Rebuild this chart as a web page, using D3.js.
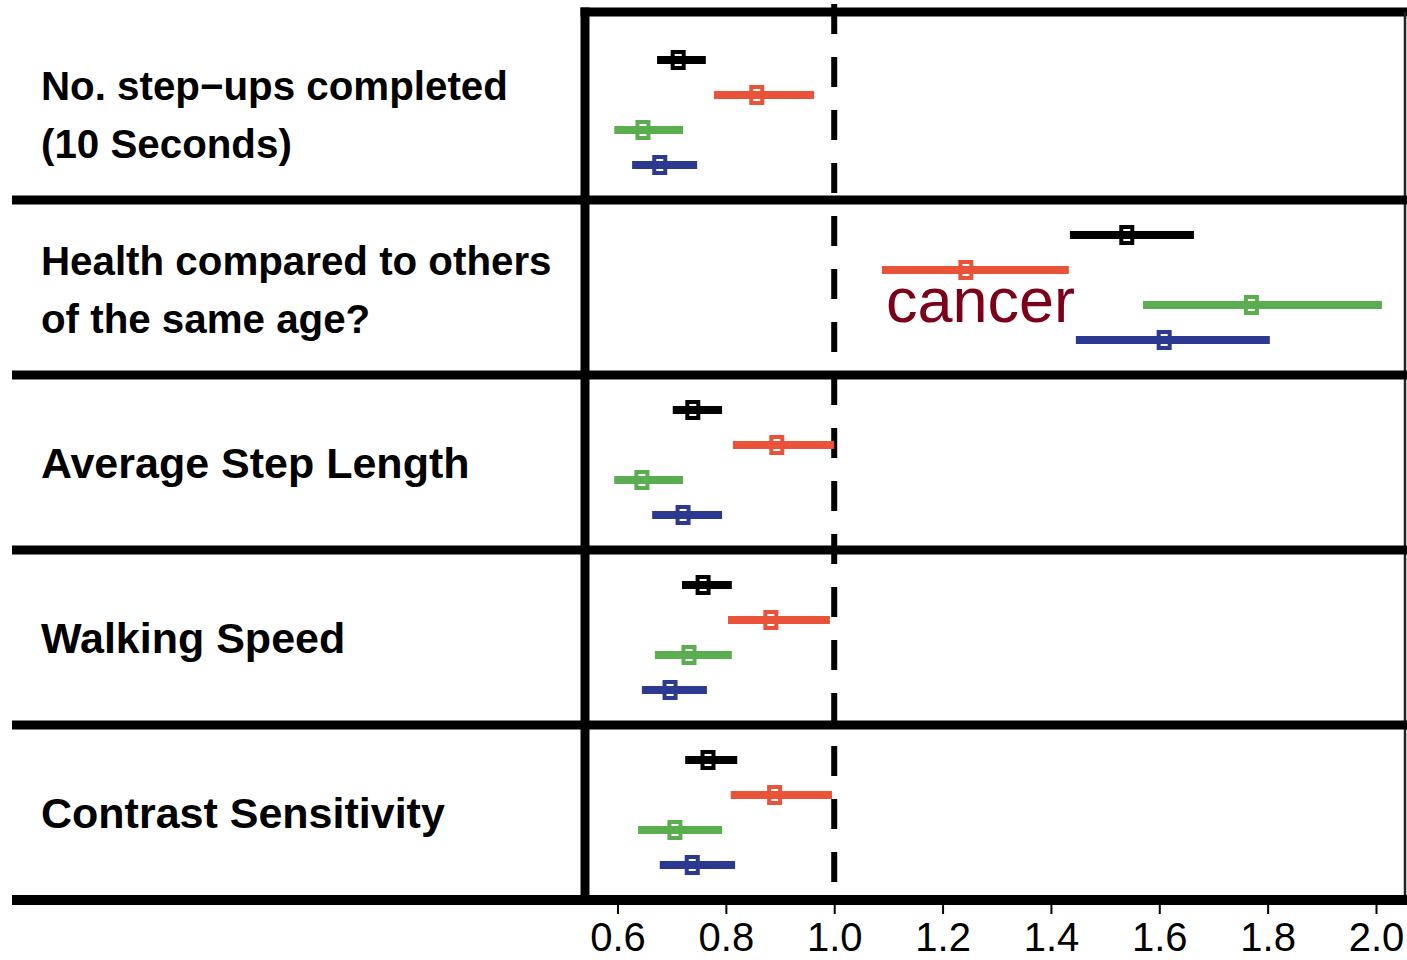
<!DOCTYPE html>
<html>
<head>
<meta charset="utf-8">
<script src="https://cdn.jsdelivr.net/npm/d3@7"></script>
<style>
  html, body { margin: 0; padding: 0; background: #fff; }
  svg { display: block; }
</style>
</head>
<body>
<svg id="chart" width="1407" height="960"></svg>
<script>
// outcomes (one panel each), top to bottom
const outcomes = [
  ["No. step\u2212ups completed", "(10 Seconds)"],
  ["Health compared to others", "of the same age?"],
  ["Average Step Length"],
  ["Walking Speed"],
  ["Contrast Sensitivity"]
];

const xTicks = [0.6, 0.8, 1.0, 1.2, 1.4, 1.6, 1.8, 2.0];

// odds ratios with 95% CI, one value per outcome
const blackEst = [0.712, 1.540, 0.739, 0.758, 0.767];
const blackLo  = [0.673, 1.435, 0.702, 0.719, 0.725];
const blackHi  = [0.763, 1.664, 0.793, 0.811, 0.821];

const redEst = [0.857, 1.243, 0.894, 0.883, 0.890];
const redLo  = [0.778, 1.088, 0.813, 0.804, 0.809];
const redHi  = [0.963, 1.433, 1.000, 0.992, 0.996];

const greenEst = [0.647, 1.770, 0.645, 0.732, 0.706];
const greenLo  = [0.594, 1.570, 0.594, 0.669, 0.638];
const greenHi  = [0.721, 2.011, 0.721, 0.811, 0.793];

const blueEst = [0.678, 1.609, 0.721, 0.697, 0.738];
const blueLo  = [0.627, 1.446, 0.664, 0.645, 0.678];
const blueHi  = [0.747, 1.804, 0.793, 0.765, 0.817];

const annotation = "cancer";

const seriesColors = ["#000000", "#e9533a", "#5aae50", "#2b3990"];

const series = [
  { est: blackEst, lo: blackLo, hi: blackHi },
  { est: redEst, lo: redLo, hi: redHi },
  { est: greenEst, lo: greenLo, hi: greenHi },
  { est: blueEst, lo: blueLo, hi: blueHi }
];

const rows = [];
series.forEach((s, si) => {
  outcomes.forEach((o, p) => {
    rows.push({ panel: p, series: si, est: s.est[p], lo: s.lo[p], hi: s.hi[p] });
  });
});

const svg = d3.select("#chart");

const x = d3.scaleLinear().domain([0.6, 2.0]).range([617.5, 1376]);
// panel index -> vertical position (panels are 175px tall)
const y = d3.scaleLinear().domain([0, 5]).range([25, 900]);

const frameLeft = 585, frameRight = 1405, frameTop = 12;

// reference line at 1
svg.append("line")
  .attr("x1", x(1)).attr("x2", x(1))
  .attr("y1", 4).attr("y2", y(5))
  .attr("stroke", "#000")
  .attr("stroke-width", 6)
  .attr("stroke-dasharray", "30,23");

// intervals
const g = svg.append("g");
g.selectAll(".ci")
  .data(rows)
  .enter()
  .append("line")
  .attr("class", "ci")
  .attr("x1", d => x(d.lo))
  .attr("x2", d => x(d.hi))
  .attr("y1", d => y(d.panel + (d.series + 1) / 5))
  .attr("y2", d => y(d.panel + (d.series + 1) / 5))
  .attr("stroke", d => seriesColors[d.series])
  .attr("stroke-width", 8);

g.selectAll(".pt")
  .data(rows)
  .enter()
  .append("rect")
  .attr("class", "pt")
  .attr("x", d => x(d.est) - 5.5)
  .attr("y", d => y(d.panel + (d.series + 1) / 5) - 8)
  .attr("width", 11)
  .attr("height", 16)
  .attr("fill", "none")
  .attr("stroke", d => seriesColors[d.series])
  .attr("stroke-width", 4);

// frame and panel separators
svg.append("line")
  .attr("x1", frameLeft - 4.5).attr("x2", 1407)
  .attr("y1", frameTop).attr("y2", frameTop)
  .attr("stroke", "#000").attr("stroke-width", 9);

svg.append("line")
  .attr("x1", frameRight).attr("x2", frameRight)
  .attr("y1", frameTop).attr("y2", y(5))
  .attr("stroke", "#222").attr("stroke-width", 2.5);

svg.selectAll(".sep")
  .data(d3.range(1, 6))
  .enter()
  .append("line")
  .attr("class", "sep")
  .attr("x1", 12).attr("x2", 1407)
  .attr("y1", d => y(d)).attr("y2", d => y(d))
  .attr("stroke", "#000")
  .attr("stroke-width", d => d === 5 ? 10 : 9);

svg.append("line")
  .attr("x1", frameLeft).attr("x2", frameLeft)
  .attr("y1", frameTop - 4.5).attr("y2", y(5) + 5)
  .attr("stroke", "#000").attr("stroke-width", 9);

// x axis
const axis = svg.append("g")
  .attr("transform", `translate(0,${y(5) + 5})`)
  .call(d3.axisBottom(x).tickValues(xTicks).tickFormat(d3.format(".1f")).tickSize(9).tickPadding(9));
axis.select(".domain").remove();
axis.selectAll(".tick line").attr("stroke", "#000").attr("stroke-width", 2);
axis.selectAll(".tick text")
  .attr("fill", "#000")
  .style("font-family", "'Liberation Sans', Arial, Helvetica, sans-serif")
  .style("font-size", "40px");

// outcome labels (two-line labels are set a little smaller)
const labels = svg.selectAll(".label")
  .data(outcomes)
  .enter()
  .append("text")
  .attr("class", "label")
  .style("font-family", "'Liberation Sans', Arial, Helvetica, sans-serif")
  .style("font-weight", "bold")
  .style("font-size", d => d.length > 1 ? "40.3px" : "43px")
  .attr("fill", "#000");

labels.each(function (d, p) {
  const el = d3.select(this);
  const c = y(p + 0.5);
  const first = d.length === 1 ? c + 15.5 : c - 13;
  d.forEach((line, i) => {
    el.append("tspan")
      .attr("x", 41)
      .attr("y", first + i * 58)
      .text(line);
  });
});

// annotation
svg.append("text")
  .attr("x", 886)
  .attr("y", 322)
  .style("font-family", "'Liberation Sans', Arial, Helvetica, sans-serif")
  .style("font-size", "63px")
  .attr("fill", "#7c0019")
  .text(annotation);
</script>
</body>
</html>
